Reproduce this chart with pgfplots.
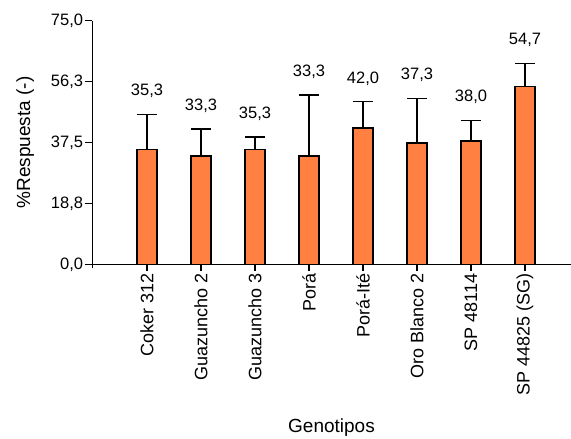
\documentclass[border=0pt]{standalone}
\usepackage{pgfplots}
\pgfplotsset{compat=1.18}
\usepackage{fontspec}
\setmainfont{Liberation Sans}
\definecolor{barorange}{RGB}{255,128,64}
\pgfplotstableread{
x y e t l
0 35.3 10.9 46.2 35,3
1 33.3 8.3 41.6 33,3
2 35.3 3.9 39.2 35,3
3 33.3 18.8 52.1 33,3
4 42.0 8.1 50.1 42,0
5 37.3 13.8 51.1 37,3
6 38.0 6.3 44.3 38,0
7 54.7 7.2 61.9 54,7
}\datatab
\begin{document}
\begin{tikzpicture}
\begin{axis}[
  scale only axis, width=478.4pt, height=243.6pt,
  xmin=-1.013, xmax=7.846, ymin=0, ymax=75,
  axis x line*=bottom, axis y line*=left,
  axis line style={line width=1.4pt, black},
  ytick={0,18.75,37.5,56.25,75},
  yticklabels={{0,0},{18,8},{37,5},{56,3},{75,0}},
  xtick={0,...,7},
  xticklabels={Coker 312, Guazuncho 2, Guazuncho 3, Porá, Porá-Ité, Oro Blanco 2, SP 48114, SP 44825 (SG)},
  extra x ticks={-1.013}, extra x tick labels={},
  extra x tick style={major tick length=4pt},
  tick align=outside, major tick length=7pt,
  tick style={line width=1.4pt, black},
  xticklabel style={rotate=90, anchor=east, font=\fontsize{18}{20}\selectfont, inner sep=2pt},
  yticklabel style={font=\fontsize{16.5}{18}\selectfont, inner sep=2pt},
  xlabel={Genotipos}, ylabel={\%Respuesta (-)},
  xlabel style={at={(axis description cs:0.5,-0.672)}, anchor=center, font=\fontsize{19}{22}\selectfont},
  ylabel style={at={(axis description cs:-0.14,0.5)}, anchor=center, font=\fontsize{19}{22}\selectfont},
  clip=false,
]
\coordinate (O) at (rel axis cs:0,0);
\addplot[ybar, bar width=20pt, fill=barorange, draw=black, line width=1.4pt,
  error bars/.cd, y dir=plus, y explicit,
  error bar style={line width=1.4pt, black},
  error mark options={rotate=90, line width=1.4pt, black, mark size=10pt}]
  table[x=x, y=y, y error=e] {\datatab};
\addplot[draw=none, mark=none, nodes near coords, point meta=explicit symbolic,
  every node near coord/.append style={anchor=base, yshift=18.5pt, font=\fontsize{16.5}{18}\selectfont, text=black}]
  table[x=x, y=t, meta=l] {\datatab};
\end{axis}
\pgfresetboundingbox
\path (O) ++(-92.3pt,-174.7pt) rectangle ++(571pt,439pt);
\end{tikzpicture}
\end{document}
